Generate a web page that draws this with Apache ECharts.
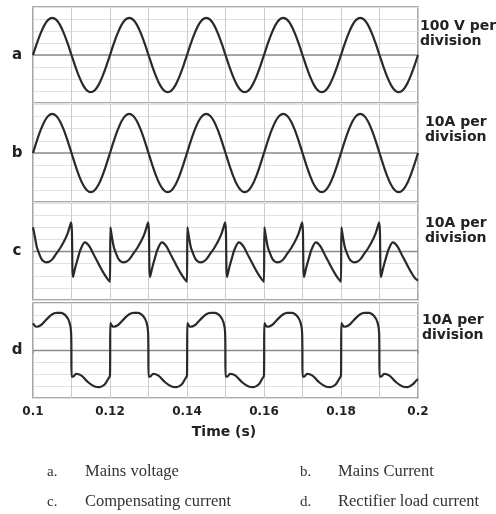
<!DOCTYPE html>
<html>
<head>
<meta charset="utf-8">
<script src="https://cdn.jsdelivr.net/npm/echarts@6/dist/echarts.min.js"></script>
<style>html,body{margin:0;padding:0;background:#fff;}#chart{width:496px;height:514px;}</style>
</head>
<body>
<div id="chart"></div>
<script>
// ---- data (time in seconds) ----
const timeS = [0.100,0.101,0.102,0.103,0.104,0.105,0.106,0.107,0.108,0.109,
0.110,0.111,0.112,0.113,0.114,0.115,0.116,0.117,0.118,0.119,
0.120,0.121,0.122,0.123,0.124,0.125,0.126,0.127,0.128,0.129,
0.130,0.131,0.132,0.133,0.134,0.135,0.136,0.137,0.138,0.139,
0.140,0.141,0.142,0.143,0.144,0.145,0.146,0.147,0.148,0.149,
0.150,0.151,0.152,0.153,0.154,0.155,0.156,0.157,0.158,0.159,
0.160,0.161,0.162,0.163,0.164,0.165,0.166,0.167,0.168,0.169,
0.170,0.171,0.172,0.173,0.174,0.175,0.176,0.177,0.178,0.179,
0.180,0.181,0.182,0.183,0.184,0.185,0.186,0.187,0.188,0.189,
0.190,0.191,0.192,0.193,0.194,0.195,0.196,0.197,0.198,0.199,0.200];

// a. Mains voltage (V)
const mainsVoltage = [0,96,182,251,295,310,295,251,182,96,0,-96,-182,-251,-295,-310,-295,-251,-182,-96,
0,96,182,251,295,310,295,251,182,96,0,-96,-182,-251,-295,-310,-295,-251,-182,-96,
0,96,182,251,295,310,295,251,182,96,0,-96,-182,-251,-295,-310,-295,-251,-182,-96,
0,96,182,251,295,310,295,251,182,96,0,-96,-182,-251,-295,-310,-295,-251,-182,-96,
0,96,182,251,295,310,295,251,182,96,0,-96,-182,-251,-295,-310,-295,-251,-182,-96,0];

// b. Mains current (A)
const mainsCurrent = [0,9.9,18.8,25.9,30.4,32,30.4,25.9,18.8,9.9,0,-9.9,-18.8,-25.9,-30.4,-32,-30.4,-25.9,-18.8,-9.9,
0,9.9,18.8,25.9,30.4,32,30.4,25.9,18.8,9.9,0,-9.9,-18.8,-25.9,-30.4,-32,-30.4,-25.9,-18.8,-9.9,
0,9.9,18.8,25.9,30.4,32,30.4,25.9,18.8,9.9,0,-9.9,-18.8,-25.9,-30.4,-32,-30.4,-25.9,-18.8,-9.9,
0,9.9,18.8,25.9,30.4,32,30.4,25.9,18.8,9.9,0,-9.9,-18.8,-25.9,-30.4,-32,-30.4,-25.9,-18.8,-9.9,
0,9.9,18.8,25.9,30.4,32,30.4,25.9,18.8,9.9,0,-9.9,-18.8,-25.9,-30.4,-32,-30.4,-25.9,-18.8,-9.9,0];

// c. Compensating current (A): [time, value]
const compensatingCurrent = [
[0.1000,20],[0.1005,12],[0.1010,3.5],[0.1015,-1],[0.1021,-5.5],[0.1027,-8],[0.1034,-9],[0.1042,-8.5],[0.1050,-6.5],[0.1060,-2],[0.1070,2.5],[0.1080,8],[0.1090,15],[0.1099,24],[0.1104,-21],[0.1110,-13],[0.1117,-5],[0.1124,2],[0.1135,7.5],[0.1145,5],[0.1153,0.5],[0.1160,-4],[0.1170,-10],[0.1182,-17],[0.1192,-22],[0.1200,-25],
[0.1201,20],[0.1205,12],[0.1210,3.5],[0.1215,-1],[0.1221,-5.5],[0.1227,-8],[0.1234,-9],[0.1242,-8.5],[0.1250,-6.5],[0.1260,-2],[0.1270,2.5],[0.1280,8],[0.1290,15],[0.1299,24],[0.1304,-21],[0.1310,-13],[0.1317,-5],[0.1324,2],[0.1335,7.5],[0.1345,5],[0.1353,0.5],[0.1360,-4],[0.1370,-10],[0.1382,-17],[0.1392,-22],[0.1400,-25],
[0.1401,20],[0.1405,12],[0.1410,3.5],[0.1415,-1],[0.1421,-5.5],[0.1427,-8],[0.1434,-9],[0.1442,-8.5],[0.1450,-6.5],[0.1460,-2],[0.1470,2.5],[0.1480,8],[0.1490,15],[0.1499,24],[0.1504,-21],[0.1510,-13],[0.1517,-5],[0.1524,2],[0.1535,7.5],[0.1545,5],[0.1553,0.5],[0.1560,-4],[0.1570,-10],[0.1582,-17],[0.1592,-22],[0.1600,-25],
[0.1601,20],[0.1605,12],[0.1610,3.5],[0.1615,-1],[0.1621,-5.5],[0.1627,-8],[0.1634,-9],[0.1642,-8.5],[0.1650,-6.5],[0.1660,-2],[0.1670,2.5],[0.1680,8],[0.1690,15],[0.1699,24],[0.1704,-21],[0.1710,-13],[0.1717,-5],[0.1724,2],[0.1735,7.5],[0.1745,5],[0.1753,0.5],[0.1760,-4],[0.1770,-10],[0.1782,-17],[0.1792,-22],[0.1800,-25],
[0.1801,20],[0.1805,12],[0.1810,3.5],[0.1815,-1],[0.1821,-5.5],[0.1827,-8],[0.1834,-9],[0.1842,-8.5],[0.1850,-6.5],[0.1860,-2],[0.1870,2.5],[0.1880,8],[0.1890,15],[0.1899,24],[0.1904,-21],[0.1910,-13],[0.1917,-5],[0.1924,2],[0.1935,7.5],[0.1945,5],[0.1953,0.5],[0.1960,-4],[0.1970,-10],[0.1982,-17],[0.1992,-22],[0.2000,-24]
];

// d. Rectifier load current (A): [time, value]
const rectifierCurrent = [
[0.1000,23],[0.1009,20],[0.1021,21.5],[0.1030,24.5],[0.1039,27.5],[0.1050,30.5],[0.1060,31.7],[0.1073,31.7],[0.1086,29],[0.1095,23.5],[0.1099,15],[0.11005,-22],[0.1104,-22],[0.1112,-19.7],[0.1125,-21],[0.1143,-26.7],[0.1160,-30.3],[0.1173,-30.8],[0.1186,-28.6],[0.1195,-24],[0.1200,-21],
[0.1201,23],[0.1209,20],[0.1221,21.5],[0.1230,24.5],[0.1239,27.5],[0.1250,30.5],[0.1260,31.7],[0.1273,31.7],[0.1286,29],[0.1295,23.5],[0.1299,15],[0.13005,-22],[0.1304,-22],[0.1312,-19.7],[0.1325,-21],[0.1343,-26.7],[0.1360,-30.3],[0.1373,-30.8],[0.1386,-28.6],[0.1395,-24],[0.1400,-21],
[0.1401,23],[0.1409,20],[0.1421,21.5],[0.1430,24.5],[0.1439,27.5],[0.1450,30.5],[0.1460,31.7],[0.1473,31.7],[0.1486,29],[0.1495,23.5],[0.1499,15],[0.15005,-22],[0.1504,-22],[0.1512,-19.7],[0.1525,-21],[0.1543,-26.7],[0.1560,-30.3],[0.1573,-30.8],[0.1586,-28.6],[0.1595,-24],[0.1600,-21],
[0.1601,23],[0.1609,20],[0.1621,21.5],[0.1630,24.5],[0.1639,27.5],[0.1650,30.5],[0.1660,31.7],[0.1673,31.7],[0.1686,29],[0.1695,23.5],[0.1699,15],[0.17005,-22],[0.1704,-22],[0.1712,-19.7],[0.1725,-21],[0.1743,-26.7],[0.1760,-30.3],[0.1773,-30.8],[0.1786,-28.6],[0.1795,-24],[0.1800,-21],
[0.1801,23],[0.1809,20],[0.1821,21.5],[0.1830,24.5],[0.1839,27.5],[0.1850,30.5],[0.1860,31.7],[0.1873,31.7],[0.1886,29],[0.1895,23.5],[0.1899,15],[0.19005,-22],[0.1904,-22],[0.1912,-19.7],[0.1925,-21],[0.1943,-26.7],[0.1960,-30.3],[0.1973,-30.8],[0.1986,-28.6],[0.1995,-25.5],[0.2000,-24]
];

const panelLetters = ['a','b','c','d'];
const scaleLabels = ['100 V per\ndivision','10A per\ndivision','10A per\ndivision','10A per\ndivision'];
const legendKeys = ['a.','b.','c.','d.'];
const legendTexts = ['Mains voltage','Mains Current','Compensating current','Rectifier load current'];
const xTickValues = [0.1,0.12,0.14,0.16,0.18,0.2];
const xAxisTitle = 'Time (s)';

// ---- layout ----
const LEFT = 33, RIGHT = 78;
const panels = [
  {top: 7, height: 96, yMax: 400, yInt: 100, labelX: 420, labelY: 19},
  {top: 104, height: 98, yMax: 40, yInt: 10, labelX: 425, labelY: 114.5},
  {top: 203, height: 97, yMax: 40, yInt: 10, labelX: 425, labelY: 215.5},
  {top: 303, height: 95, yMax: 40, yInt: 10, labelX: 422, labelY: 312.5}
];

const zip = (t, v) => t.map((x, i) => [x, v[i]]);
const seriesData = [zip(timeS, mainsVoltage), zip(timeS, mainsCurrent), compensatingCurrent, rectifierCurrent];

const chart = echarts.init(document.getElementById('chart'), null, {renderer: 'canvas'});

const grid = panels.map(p => ({left: LEFT, right: RIGHT, top: p.top, height: p.height, show: true,
  borderColor: '#8c8c8c', borderWidth: 1.5, backgroundColor: 'transparent'}));

const xAxis = panels.map((p, i) => ({
  type: 'value', gridIndex: i, min: 0.1, max: 0.2, interval: 0.01,
  axisLine: {show: false},
  axisTick: {show: i === 3, length: 3, lineStyle: {color: '#999'}},
  splitLine: {show: true, lineStyle: {color: '#cccccc', width: 1}},
  axisLabel: {show: i === 3, margin: 8, color: '#222', fontFamily: 'DejaVu Sans', fontWeight: 'bold', fontSize: 12,
    formatter: v => {
      const hit = xTickValues.find(x => Math.abs(x - v) < 1e-6);
      return hit !== undefined ? String(hit) : '';
    }}
}));

const yAxis = panels.map((p, i) => ({
  type: 'value', gridIndex: i, min: -p.yMax, max: p.yMax, interval: p.yInt,
  axisLine: {show: false}, axisTick: {show: false}, axisLabel: {show: false},
  splitLine: {show: true, lineStyle: {color: '#e2e2e2', width: 1}}
}));

const series = [];
panels.forEach((p, i) => {
  series.push({type: 'line', xAxisIndex: i, yAxisIndex: i, data: [[0.1, 0], [0.2, 0]], symbol: 'none',
    silent: true, z: 1, lineStyle: {color: '#8c8c8c', width: 1.5}});
  series.push({type: 'line', xAxisIndex: i, yAxisIndex: i, data: seriesData[i], symbol: 'none',
    smooth: 0.35, silent: true, z: 3, lineStyle: {color: '#2a2a2a', width: 2.2}});
});

const graphic = [];
const centers = panels.map(p => p.top + p.height / 2);
panelLetters.forEach((t, i) => graphic.push({type: 'text', silent: true,
  style: {text: t, x: 17, y: centers[i], align: 'center', verticalAlign: 'middle',
    font: 'bold 15px "DejaVu Sans"', fill: '#222'}}));
scaleLabels.forEach((t, i) => graphic.push({type: 'text', silent: true,
  style: {text: t, x: panels[i].labelX, y: panels[i].labelY, align: 'left', verticalAlign: 'top',
    lineHeight: 15, font: 'bold 14px "DejaVu Sans"', fill: '#222'}}));
graphic.push({type: 'text', silent: true,
  style: {text: xAxisTitle, x: 224, y: 432, align: 'center', verticalAlign: 'middle',
    font: 'bold 14px "DejaVu Sans"', fill: '#222'}});
const legendPos = [[47, 85, 472], [300, 338, 472], [47, 85, 502], [300, 338, 502]];
legendKeys.forEach((k, i) => {
  const [kx, tx, y] = legendPos[i];
  graphic.push({type: 'text', silent: true, style: {text: k, x: kx, y: y, align: 'left', verticalAlign: 'middle',
    font: '15px "Liberation Serif"', fill: '#333'}});
  graphic.push({type: 'text', silent: true, style: {text: legendTexts[i], x: tx, y: y, align: 'left', verticalAlign: 'middle',
    font: '16.5px "Liberation Serif"', fill: '#333'}});
});

chart.setOption({animation: false, backgroundColor: '#fff', grid, xAxis, yAxis, series, graphic});
</script>
</body>
</html>
